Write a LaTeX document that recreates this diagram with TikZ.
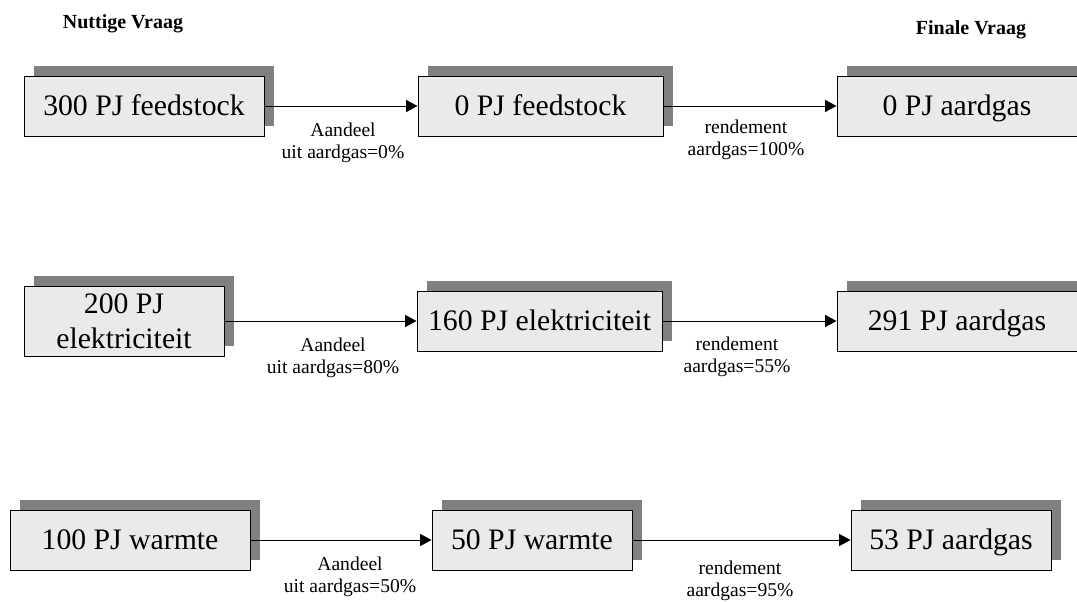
\documentclass[tikz,border=0pt]{standalone}
\usepackage{fontspec}
\setmainfont{Liberation Serif}
\usetikzlibrary{arrows.meta,shadows}
\definecolor{boxfill}{HTML}{EAEAEA}
\definecolor{shadowgray}{HTML}{808080}
\begin{document}
\begin{tikzpicture}[x=0.75pt,y=-0.75pt,
  flowbox/.style={draw=black, line width=0.75pt, fill=boxfill, inner sep=0pt,
    minimum height=45pt, align=center, font=\fontsize{22.3}{26.2}\selectfont,
    drop shadow={shadow xshift=7.5pt, shadow yshift=7.5pt, opacity=1, fill=shadowgray}},
  oneline/.style={text height=14.8pt, text depth=0pt},
  lbl/.style={align=center, font=\fontsize{14.7}{16.5}\selectfont, inner sep=0pt},
  ttl/.style={font=\fontsize{15}{17}\selectfont\bfseries, inner sep=0pt},
  arr/.style={-{Triangle[length=8.5pt,width=9pt]}, line width=0.75pt}]
\useasboundingbox (0,0) rectangle (1077,601);
\fill[white] (0,0) rectangle (1077,601);

\node[ttl] (t1) at (123,24) {Nuttige Vraag};
\node[ttl] (t2) at (971,30) {Finale Vraag};

\node[flowbox, oneline, minimum width=180pt] (a1) at (144,106) {300 PJ feedstock};
\node[flowbox, oneline, minimum width=183.75pt] (b1) at (540.5,106) {0 PJ feedstock};
\node[flowbox, oneline, minimum width=180pt] (c1) at (957,106) {0 PJ aardgas};

\node[flowbox, minimum width=150pt, minimum height=52.5pt] (a2) at (124,321) {200 PJ\\elektriciteit};
\node[flowbox, oneline, minimum width=183.75pt] (b2) at (539.5,321) {160 PJ elektriciteit};
\node[flowbox, oneline, minimum width=180pt] (c2) at (957,321) {291 PJ aardgas};

\node[flowbox, oneline, minimum width=180pt] (a3) at (130,540) {100 PJ warmte};
\node[flowbox, oneline, minimum width=150pt] (b3) at (532,540) {50 PJ warmte};
\node[flowbox, oneline, minimum width=150pt] (c3) at (951,540) {53 PJ aardgas};

\draw[arr] (a1) -- (b1);
\draw[arr] (b1) -- (c1);
\draw[arr] (a2) -- (b2);
\draw[arr] (b2) -- (c2);
\draw[arr] (a3) -- (b3);
\draw[arr] (b3) -- (c3);

\node[lbl] (l1a) at (343,143) {Aandeel\\uit aardgas=0\%};
\node[lbl] (l1b) at (746,140) {rendement\\aardgas=100\%};
\node[lbl] (l2a) at (333,358) {Aandeel\\uit aardgas=80\%};
\node[lbl] (l2b) at (737,357) {rendement\\aardgas=55\%};
\node[lbl] (l3a) at (350,577) {Aandeel\\uit aardgas=50\%};
\node[lbl] (l3b) at (740,581) {rendement\\aardgas=95\%};
\end{tikzpicture}
\end{document}
